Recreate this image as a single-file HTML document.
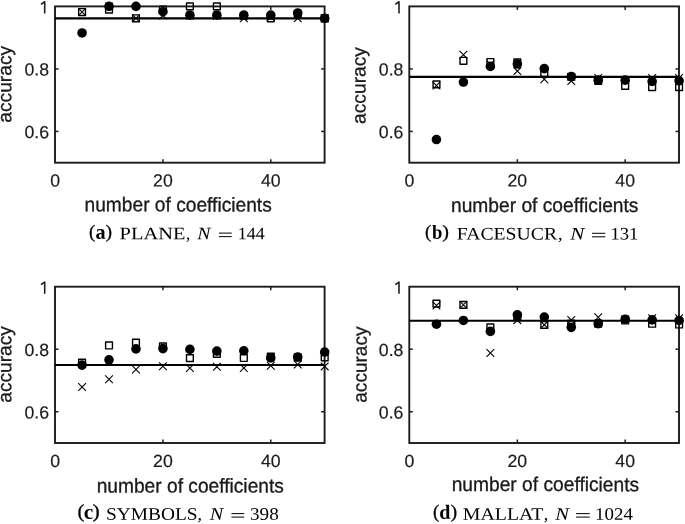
<!DOCTYPE html>
<html><head><meta charset="utf-8"><style>
html,body{margin:0;padding:0;background:#fff;}
svg{display:block;will-change:transform;font-family:"Liberation Sans",sans-serif;}
</style></head><body>
<svg width="685" height="524" viewBox="0 0 685 524">
<rect width="685" height="524" fill="#fff"/>
<g stroke="#1c1c1c" stroke-width="1.9"><line x1="162.94" y1="162.70" x2="162.94" y2="159.20" stroke-width="1.5"/><line x1="162.94" y1="6.40" x2="162.94" y2="9.90" stroke-width="1.5"/><line x1="270.78" y1="162.70" x2="270.78" y2="159.20" stroke-width="1.5"/><line x1="270.78" y1="6.40" x2="270.78" y2="9.90" stroke-width="1.5"/><line x1="55.00" y1="131.44" x2="58.50" y2="131.44" stroke-width="1.5"/><line x1="324.60" y1="131.44" x2="321.10" y2="131.44" stroke-width="1.5"/><line x1="55.00" y1="68.92" x2="58.50" y2="68.92" stroke-width="1.5"/><line x1="324.60" y1="68.92" x2="321.10" y2="68.92" stroke-width="1.5"/><rect x="55.00" y="6.40" width="269.60" height="156.30" fill="none"/></g>
<line x1="55.00" y1="18.28" x2="324.60" y2="18.28" stroke="#000" stroke-width="2.2"/>
<rect x="78.66" y="8.63" width="6.80" height="6.80" fill="none" stroke="#000" stroke-width="1.4" stroke-linejoin="round"/><path d="M78.21 8.18L85.91 15.88M85.91 8.18L78.21 15.88" stroke="#000" stroke-width="1.1" fill="none"/><circle cx="82.06" cy="32.97" r="4.8" fill="#000"/><rect x="105.62" y="6.13" width="6.80" height="6.80" fill="none" stroke="#000" stroke-width="1.4" stroke-linejoin="round"/><path d="M105.17 2.55L112.87 10.25M112.87 2.55L105.17 10.25" stroke="#000" stroke-width="1.1" fill="none"/><circle cx="109.02" cy="6.40" r="4.8" fill="#000"/><rect x="132.58" y="14.88" width="6.80" height="6.80" fill="none" stroke="#000" stroke-width="1.4" stroke-linejoin="round"/><path d="M132.13 14.43L139.83 22.13M139.83 14.43L132.13 22.13" stroke="#000" stroke-width="1.1" fill="none"/><circle cx="135.98" cy="6.40" r="4.8" fill="#000"/><rect x="159.54" y="6.13" width="6.80" height="6.80" fill="none" stroke="#000" stroke-width="1.4" stroke-linejoin="round"/><path d="M159.09 11.62L166.79 19.32M166.79 11.62L159.09 19.32" stroke="#000" stroke-width="1.1" fill="none"/><circle cx="162.94" cy="11.71" r="4.8" fill="#000"/><rect x="186.50" y="3.00" width="6.80" height="6.80" fill="none" stroke="#000" stroke-width="1.4" stroke-linejoin="round"/><path d="M186.05 11.93L193.75 19.63M193.75 11.93L186.05 19.63" stroke="#000" stroke-width="1.1" fill="none"/><circle cx="189.90" cy="15.15" r="4.8" fill="#000"/><rect x="213.46" y="3.00" width="6.80" height="6.80" fill="none" stroke="#000" stroke-width="1.4" stroke-linejoin="round"/><path d="M213.01 11.93L220.71 19.63M220.71 11.93L213.01 19.63" stroke="#000" stroke-width="1.1" fill="none"/><circle cx="216.86" cy="15.15" r="4.8" fill="#000"/><rect x="240.42" y="12.38" width="6.80" height="6.80" fill="none" stroke="#000" stroke-width="1.4" stroke-linejoin="round"/><path d="M239.97 14.43L247.67 22.13M247.67 14.43L239.97 22.13" stroke="#000" stroke-width="1.1" fill="none"/><circle cx="243.82" cy="15.15" r="4.8" fill="#000"/><rect x="267.38" y="14.88" width="6.80" height="6.80" fill="none" stroke="#000" stroke-width="1.4" stroke-linejoin="round"/><path d="M266.93 13.49L274.63 21.19M274.63 13.49L266.93 21.19" stroke="#000" stroke-width="1.1" fill="none"/><circle cx="270.78" cy="15.15" r="4.8" fill="#000"/><rect x="294.34" y="10.82" width="6.80" height="6.80" fill="none" stroke="#000" stroke-width="1.4" stroke-linejoin="round"/><path d="M293.89 14.43L301.59 22.13M301.59 14.43L293.89 22.13" stroke="#000" stroke-width="1.1" fill="none"/><circle cx="297.74" cy="12.96" r="4.8" fill="#000"/><rect x="321.30" y="14.88" width="6.80" height="6.80" fill="none" stroke="#000" stroke-width="1.4" stroke-linejoin="round"/><path d="M320.85 14.43L328.55 22.13M328.55 14.43L320.85 22.13" stroke="#000" stroke-width="1.1" fill="none"/><circle cx="324.70" cy="18.28" r="4.8" fill="#000"/>
<path d="M44.70 13.50V1.30M45.00 1.50L41.00 4.40" stroke="#1a1a1a" stroke-width="1.55" fill="none"/>
<g font-size="17.7" fill="#1a1a1a" stroke="#1a1a1a" stroke-width="0.18"><text transform="translate(49.10,75.62) skewY(0.05)" text-anchor="end">0.8</text><text transform="translate(49.10,138.14) skewY(0.05)" text-anchor="end">0.6</text><text transform="translate(55.10,186.60) skewY(0.05)" text-anchor="middle">0</text><text transform="translate(162.94,186.60) skewY(0.05)" text-anchor="middle">20</text><text transform="translate(270.78,186.60) skewY(0.05)" text-anchor="middle">40</text></g>
<text transform="translate(84.50,211.30) skewY(0.05) scale(1,1.04)" font-size="19.2" textLength="187.28" lengthAdjust="spacingAndGlyphs" fill="#1a1a1a" stroke="#1a1a1a" stroke-width="0.3">number of coefficients</text>
<text transform="translate(11.30,122.65) rotate(-90) skewY(0.05)" font-size="19.2" textLength="76.77" lengthAdjust="spacingAndGlyphs" fill="#1a1a1a" stroke="#1a1a1a" stroke-width="0.3">accuracy</text>
<g font-family="'Liberation Serif',serif"><text transform="translate(89.09,237.72) skewY(0.05) scale(1.0811,1.0625)" font-size="17.6" fill="#000" stroke="#000" stroke-width="0.25">(</text><text transform="translate(95.42,238.85) skewY(0.05) scale(1.1500,1.1821)" font-size="17.6" font-weight="bold" fill="#000">a</text><text transform="translate(105.54,237.72) skewY(0.05) scale(1.1243,1.0625)" font-size="17.6" fill="#000" stroke="#000" stroke-width="0.25">)</text><text transform="translate(119.62,239.20) skewY(0.05) scale(1,1.0)" font-size="17.6" textLength="65.74" lengthAdjust="spacingAndGlyphs" fill="#000">PLANE</text><text transform="translate(186.10,239.20) skewY(0.05) scale(1,1.0)" font-size="17.6" textLength="4.20" lengthAdjust="spacingAndGlyphs" fill="#000">,</text><text transform="translate(197.34,239.20) skewY(0.05) scale(1,1.0)" font-size="17.6" font-style="italic" textLength="13.19" lengthAdjust="spacingAndGlyphs" fill="#000">N</text><text transform="translate(237.67,239.20) skewY(0.05) scale(1,1.0)" font-size="17.6" textLength="26.95" lengthAdjust="spacingAndGlyphs" fill="#000">144</text><rect x="219.00" y="232.60" width="12.70" height="1.0" fill="#000"/><rect x="219.00" y="236.10" width="12.70" height="1.0" fill="#000"/></g>
<g stroke="#1c1c1c" stroke-width="1.9"><line x1="517.34" y1="162.70" x2="517.34" y2="159.20" stroke-width="1.5"/><line x1="517.34" y1="6.40" x2="517.34" y2="9.90" stroke-width="1.5"/><line x1="625.18" y1="162.70" x2="625.18" y2="159.20" stroke-width="1.5"/><line x1="625.18" y1="6.40" x2="625.18" y2="9.90" stroke-width="1.5"/><line x1="409.30" y1="131.44" x2="412.80" y2="131.44" stroke-width="1.5"/><line x1="679.00" y1="131.44" x2="675.50" y2="131.44" stroke-width="1.5"/><line x1="409.30" y1="68.92" x2="412.80" y2="68.92" stroke-width="1.5"/><line x1="679.00" y1="68.92" x2="675.50" y2="68.92" stroke-width="1.5"/><rect x="409.30" y="6.40" width="269.70" height="156.30" fill="none"/></g>
<line x1="409.30" y1="76.89" x2="679.00" y2="76.89" stroke="#000" stroke-width="2.2"/>
<rect x="433.06" y="80.96" width="6.80" height="6.80" fill="none" stroke="#000" stroke-width="1.4" stroke-linejoin="round"/><path d="M432.61 81.64L440.31 89.34M440.31 81.64L432.61 89.34" stroke="#000" stroke-width="1.1" fill="none"/><circle cx="436.46" cy="139.57" r="4.8" fill="#000"/><rect x="460.02" y="57.39" width="6.80" height="6.80" fill="none" stroke="#000" stroke-width="1.4" stroke-linejoin="round"/><path d="M459.57 50.85L467.27 58.55M467.27 50.85L459.57 58.55" stroke="#000" stroke-width="1.1" fill="none"/><circle cx="463.42" cy="82.05" r="4.8" fill="#000"/><rect x="486.98" y="58.64" width="6.80" height="6.80" fill="none" stroke="#000" stroke-width="1.4" stroke-linejoin="round"/><path d="M486.53 60.38L494.23 68.08M494.23 60.38L486.53 68.08" stroke="#000" stroke-width="1.1" fill="none"/><circle cx="490.38" cy="66.42" r="4.8" fill="#000"/><rect x="513.94" y="58.96" width="6.80" height="6.80" fill="none" stroke="#000" stroke-width="1.4" stroke-linejoin="round"/><path d="M513.49 67.26L521.19 74.96M521.19 67.26L513.49 74.96" stroke="#000" stroke-width="1.1" fill="none"/><circle cx="517.34" cy="64.07" r="4.8" fill="#000"/><rect x="540.90" y="69.58" width="6.80" height="6.80" fill="none" stroke="#000" stroke-width="1.4" stroke-linejoin="round"/><path d="M540.45 75.39L548.15 83.09M548.15 75.39L540.45 83.09" stroke="#000" stroke-width="1.1" fill="none"/><circle cx="544.30" cy="68.61" r="4.8" fill="#000"/><rect x="567.86" y="73.33" width="6.80" height="6.80" fill="none" stroke="#000" stroke-width="1.4" stroke-linejoin="round"/><path d="M567.41 77.26L575.11 84.96M575.11 77.26L567.41 84.96" stroke="#000" stroke-width="1.1" fill="none"/><circle cx="571.26" cy="76.58" r="4.8" fill="#000"/><rect x="594.82" y="77.40" width="6.80" height="6.80" fill="none" stroke="#000" stroke-width="1.4" stroke-linejoin="round"/><path d="M594.37 74.14L602.07 81.84M602.07 74.14L594.37 81.84" stroke="#000" stroke-width="1.1" fill="none"/><circle cx="598.22" cy="80.17" r="4.8" fill="#000"/><rect x="621.78" y="82.40" width="6.80" height="6.80" fill="none" stroke="#000" stroke-width="1.4" stroke-linejoin="round"/><path d="M621.33 76.32L629.03 84.02M629.03 76.32L621.33 84.02" stroke="#000" stroke-width="1.1" fill="none"/><circle cx="625.18" cy="80.17" r="4.8" fill="#000"/><rect x="648.74" y="83.65" width="6.80" height="6.80" fill="none" stroke="#000" stroke-width="1.4" stroke-linejoin="round"/><path d="M648.29 74.14L655.99 81.84M655.99 74.14L648.29 81.84" stroke="#000" stroke-width="1.1" fill="none"/><circle cx="652.14" cy="81.42" r="4.8" fill="#000"/><rect x="675.70" y="83.65" width="6.80" height="6.80" fill="none" stroke="#000" stroke-width="1.4" stroke-linejoin="round"/><path d="M675.25 74.14L682.95 81.84M682.95 74.14L675.25 81.84" stroke="#000" stroke-width="1.1" fill="none"/><circle cx="679.10" cy="80.80" r="4.8" fill="#000"/>
<path d="M399.00 13.50V1.30M399.30 1.50L395.30 4.40" stroke="#1a1a1a" stroke-width="1.55" fill="none"/>
<g font-size="17.7" fill="#1a1a1a" stroke="#1a1a1a" stroke-width="0.18"><text transform="translate(403.40,75.62) skewY(0.05)" text-anchor="end">0.8</text><text transform="translate(403.40,138.14) skewY(0.05)" text-anchor="end">0.6</text><text transform="translate(409.50,186.60) skewY(0.05)" text-anchor="middle">0</text><text transform="translate(517.34,186.60) skewY(0.05)" text-anchor="middle">20</text><text transform="translate(625.18,186.60) skewY(0.05)" text-anchor="middle">40</text></g>
<text transform="translate(450.95,211.90) skewY(0.05) scale(1,1.04)" font-size="19.2" textLength="187.53" lengthAdjust="spacingAndGlyphs" fill="#1a1a1a" stroke="#1a1a1a" stroke-width="0.3">number of coefficients</text>
<text transform="translate(365.50,123.95) rotate(-90) skewY(0.05)" font-size="19.2" textLength="76.87" lengthAdjust="spacingAndGlyphs" fill="#1a1a1a" stroke="#1a1a1a" stroke-width="0.3">accuracy</text>
<g font-family="'Liberation Serif',serif"><text transform="translate(424.89,237.76) skewY(0.05) scale(1.0811,1.0500)" font-size="17.6" fill="#000" stroke="#000" stroke-width="0.25">(</text><text transform="translate(431.94,238.76) skewY(0.05) scale(1.0592,1.1313)" font-size="17.6" font-weight="bold" fill="#000">b</text><text transform="translate(442.33,237.76) skewY(0.05) scale(1.1459,1.0500)" font-size="17.6" fill="#000" stroke="#000" stroke-width="0.25">)</text><text transform="translate(456.74,239.40) skewY(0.05) scale(1,1.0)" font-size="17.6" textLength="100.30" lengthAdjust="spacingAndGlyphs" fill="#000">FACESUCR</text><text transform="translate(557.96,239.40) skewY(0.05) scale(1,1.0)" font-size="17.6" textLength="4.53" lengthAdjust="spacingAndGlyphs" fill="#000">,</text><text transform="translate(570.25,239.40) skewY(0.05) scale(1,1.0)" font-size="17.6" font-style="italic" textLength="14.11" lengthAdjust="spacingAndGlyphs" fill="#000">N</text><text transform="translate(610.52,239.40) skewY(0.05) scale(1,1.0)" font-size="17.6" textLength="27.90" lengthAdjust="spacingAndGlyphs" fill="#000">131</text><rect x="592.00" y="232.80" width="13.30" height="1.0" fill="#000"/><rect x="592.00" y="236.30" width="13.30" height="1.0" fill="#000"/></g>
<g stroke="#1c1c1c" stroke-width="1.9"><line x1="162.94" y1="443.00" x2="162.94" y2="439.50" stroke-width="1.5"/><line x1="162.94" y1="286.70" x2="162.94" y2="290.20" stroke-width="1.5"/><line x1="270.78" y1="443.00" x2="270.78" y2="439.50" stroke-width="1.5"/><line x1="270.78" y1="286.70" x2="270.78" y2="290.20" stroke-width="1.5"/><line x1="55.00" y1="411.74" x2="58.50" y2="411.74" stroke-width="1.5"/><line x1="324.60" y1="411.74" x2="321.10" y2="411.74" stroke-width="1.5"/><line x1="55.00" y1="349.22" x2="58.50" y2="349.22" stroke-width="1.5"/><line x1="324.60" y1="349.22" x2="321.10" y2="349.22" stroke-width="1.5"/><rect x="55.00" y="286.70" width="269.60" height="156.30" fill="none"/></g>
<line x1="55.00" y1="365.01" x2="324.60" y2="365.01" stroke="#000" stroke-width="2.2"/>
<rect x="78.66" y="359.26" width="6.80" height="6.80" fill="none" stroke="#000" stroke-width="1.4" stroke-linejoin="round"/><path d="M78.21 383.19L85.91 390.89M85.91 383.19L78.21 390.89" stroke="#000" stroke-width="1.1" fill="none"/><circle cx="82.06" cy="365.16" r="4.8" fill="#000"/><rect x="105.62" y="342.07" width="6.80" height="6.80" fill="none" stroke="#000" stroke-width="1.4" stroke-linejoin="round"/><path d="M105.17 375.38L112.87 383.08M112.87 375.38L105.17 383.08" stroke="#000" stroke-width="1.1" fill="none"/><circle cx="109.02" cy="359.85" r="4.8" fill="#000"/><rect x="132.58" y="339.26" width="6.80" height="6.80" fill="none" stroke="#000" stroke-width="1.4" stroke-linejoin="round"/><path d="M132.13 365.69L139.83 373.39M139.83 365.69L132.13 373.39" stroke="#000" stroke-width="1.1" fill="none"/><circle cx="135.98" cy="348.91" r="4.8" fill="#000"/><rect x="159.54" y="343.01" width="6.80" height="6.80" fill="none" stroke="#000" stroke-width="1.4" stroke-linejoin="round"/><path d="M159.09 362.34L166.79 370.04M166.79 362.34L159.09 370.04" stroke="#000" stroke-width="1.1" fill="none"/><circle cx="162.94" cy="348.59" r="4.8" fill="#000"/><rect x="186.50" y="354.70" width="6.80" height="6.80" fill="none" stroke="#000" stroke-width="1.4" stroke-linejoin="round"/><path d="M186.05 364.13L193.75 371.83M193.75 364.13L186.05 371.83" stroke="#000" stroke-width="1.1" fill="none"/><circle cx="189.90" cy="349.38" r="4.8" fill="#000"/><rect x="213.46" y="350.51" width="6.80" height="6.80" fill="none" stroke="#000" stroke-width="1.4" stroke-linejoin="round"/><path d="M213.01 362.88L220.71 370.58M220.71 362.88L213.01 370.58" stroke="#000" stroke-width="1.1" fill="none"/><circle cx="216.86" cy="351.10" r="4.8" fill="#000"/><rect x="240.42" y="354.57" width="6.80" height="6.80" fill="none" stroke="#000" stroke-width="1.4" stroke-linejoin="round"/><path d="M239.97 364.13L247.67 371.83M247.67 364.13L239.97 371.83" stroke="#000" stroke-width="1.1" fill="none"/><circle cx="243.82" cy="350.78" r="4.8" fill="#000"/><rect x="267.38" y="353.32" width="6.80" height="6.80" fill="none" stroke="#000" stroke-width="1.4" stroke-linejoin="round"/><path d="M266.93 361.94L274.63 369.64M274.63 361.94L266.93 369.64" stroke="#000" stroke-width="1.1" fill="none"/><circle cx="270.78" cy="357.97" r="4.8" fill="#000"/><rect x="294.34" y="353.95" width="6.80" height="6.80" fill="none" stroke="#000" stroke-width="1.4" stroke-linejoin="round"/><path d="M293.89 360.69L301.59 368.39M301.59 360.69L293.89 368.39" stroke="#000" stroke-width="1.1" fill="none"/><circle cx="297.74" cy="357.03" r="4.8" fill="#000"/><rect x="321.30" y="353.95" width="6.80" height="6.80" fill="none" stroke="#000" stroke-width="1.4" stroke-linejoin="round"/><path d="M320.85 362.56L328.55 370.26M328.55 362.56L320.85 370.26" stroke="#000" stroke-width="1.1" fill="none"/><circle cx="324.70" cy="352.03" r="4.8" fill="#000"/>
<path d="M44.70 293.80V281.60M45.00 281.80L41.00 284.70" stroke="#1a1a1a" stroke-width="1.55" fill="none"/>
<g font-size="17.7" fill="#1a1a1a" stroke="#1a1a1a" stroke-width="0.18"><text transform="translate(49.10,355.92) skewY(0.05)" text-anchor="end">0.8</text><text transform="translate(49.10,418.44) skewY(0.05)" text-anchor="end">0.6</text><text transform="translate(55.10,466.90) skewY(0.05)" text-anchor="middle">0</text><text transform="translate(162.94,466.90) skewY(0.05)" text-anchor="middle">20</text><text transform="translate(270.78,466.90) skewY(0.05)" text-anchor="middle">40</text></g>
<text transform="translate(96.65,492.40) skewY(0.05) scale(1,1.04)" font-size="19.2" textLength="187.23" lengthAdjust="spacingAndGlyphs" fill="#1a1a1a" stroke="#1a1a1a" stroke-width="0.3">number of coefficients</text>
<text transform="translate(11.30,402.75) rotate(-90) skewY(0.05)" font-size="19.2" textLength="76.67" lengthAdjust="spacingAndGlyphs" fill="#1a1a1a" stroke="#1a1a1a" stroke-width="0.3">accuracy</text>
<g font-family="'Liberation Serif',serif"><text transform="translate(77.41,517.62) skewY(0.05) scale(1.1892,1.0875)" font-size="17.6" fill="#000" stroke="#000" stroke-width="0.25">(</text><text transform="translate(83.84,518.65) skewY(0.05) scale(1.2148,1.1821)" font-size="17.6" font-weight="bold" fill="#000">c</text><text transform="translate(92.58,517.62) skewY(0.05) scale(1.2324,1.0875)" font-size="17.6" fill="#000" stroke="#000" stroke-width="0.25">)</text><text transform="translate(105.96,519.70) skewY(0.05) scale(1,1.0)" font-size="17.6" textLength="91.65" lengthAdjust="spacingAndGlyphs" fill="#000">SYMBOLS</text><text transform="translate(197.56,519.70) skewY(0.05) scale(1,1.0)" font-size="17.6" textLength="4.53" lengthAdjust="spacingAndGlyphs" fill="#000">,</text><text transform="translate(209.74,519.70) skewY(0.05) scale(1,1.0)" font-size="17.6" font-style="italic" textLength="13.46" lengthAdjust="spacingAndGlyphs" fill="#000">N</text><text transform="translate(250.05,519.70) skewY(0.05) scale(1,1.0)" font-size="17.6" textLength="28.70" lengthAdjust="spacingAndGlyphs" fill="#000">398</text><rect x="231.50" y="513.10" width="12.70" height="1.0" fill="#000"/><rect x="231.50" y="516.60" width="12.70" height="1.0" fill="#000"/></g>
<g stroke="#1c1c1c" stroke-width="1.9"><line x1="517.34" y1="443.00" x2="517.34" y2="439.50" stroke-width="1.5"/><line x1="517.34" y1="286.70" x2="517.34" y2="290.20" stroke-width="1.5"/><line x1="625.18" y1="443.00" x2="625.18" y2="439.50" stroke-width="1.5"/><line x1="625.18" y1="286.70" x2="625.18" y2="290.20" stroke-width="1.5"/><line x1="409.30" y1="411.74" x2="412.80" y2="411.74" stroke-width="1.5"/><line x1="679.00" y1="411.74" x2="675.50" y2="411.74" stroke-width="1.5"/><line x1="409.30" y1="349.22" x2="412.80" y2="349.22" stroke-width="1.5"/><line x1="679.00" y1="349.22" x2="675.50" y2="349.22" stroke-width="1.5"/><rect x="409.30" y="286.70" width="269.70" height="156.30" fill="none"/></g>
<line x1="409.30" y1="320.77" x2="679.00" y2="320.77" stroke="#000" stroke-width="2.2"/>
<rect x="433.06" y="300.18" width="6.80" height="6.80" fill="none" stroke="#000" stroke-width="1.4" stroke-linejoin="round"/><path d="M432.61 301.61L440.31 309.31M440.31 301.61L432.61 309.31" stroke="#000" stroke-width="1.1" fill="none"/><circle cx="436.46" cy="324.21" r="4.8" fill="#000"/><rect x="460.02" y="301.43" width="6.80" height="6.80" fill="none" stroke="#000" stroke-width="1.4" stroke-linejoin="round"/><path d="M459.57 300.98L467.27 308.68M467.27 300.98L459.57 308.68" stroke="#000" stroke-width="1.1" fill="none"/><circle cx="463.42" cy="320.46" r="4.8" fill="#000"/><rect x="486.98" y="323.94" width="6.80" height="6.80" fill="none" stroke="#000" stroke-width="1.4" stroke-linejoin="round"/><path d="M486.53 349.12L494.23 356.82M494.23 349.12L486.53 356.82" stroke="#000" stroke-width="1.1" fill="none"/><circle cx="490.38" cy="331.40" r="4.8" fill="#000"/><rect x="513.94" y="313.00" width="6.80" height="6.80" fill="none" stroke="#000" stroke-width="1.4" stroke-linejoin="round"/><path d="M513.49 316.30L521.19 324.00M521.19 316.30L513.49 324.00" stroke="#000" stroke-width="1.1" fill="none"/><circle cx="517.34" cy="314.83" r="4.8" fill="#000"/><rect x="540.90" y="321.44" width="6.80" height="6.80" fill="none" stroke="#000" stroke-width="1.4" stroke-linejoin="round"/><path d="M540.45 320.99L548.15 328.69M548.15 320.99L540.45 328.69" stroke="#000" stroke-width="1.1" fill="none"/><circle cx="544.30" cy="317.02" r="4.8" fill="#000"/><rect x="567.86" y="320.19" width="6.80" height="6.80" fill="none" stroke="#000" stroke-width="1.4" stroke-linejoin="round"/><path d="M567.41 316.20L575.11 323.90M575.11 316.20L567.41 323.90" stroke="#000" stroke-width="1.1" fill="none"/><circle cx="571.26" cy="327.34" r="4.8" fill="#000"/><rect x="594.82" y="320.19" width="6.80" height="6.80" fill="none" stroke="#000" stroke-width="1.4" stroke-linejoin="round"/><path d="M594.37 313.48L602.07 321.18M602.07 313.48L594.37 321.18" stroke="#000" stroke-width="1.1" fill="none"/><circle cx="598.22" cy="323.71" r="4.8" fill="#000"/><rect x="621.78" y="317.06" width="6.80" height="6.80" fill="none" stroke="#000" stroke-width="1.4" stroke-linejoin="round"/><path d="M621.33 315.67L629.03 323.37M629.03 315.67L621.33 323.37" stroke="#000" stroke-width="1.1" fill="none"/><circle cx="625.18" cy="319.21" r="4.8" fill="#000"/><rect x="648.74" y="320.34" width="6.80" height="6.80" fill="none" stroke="#000" stroke-width="1.4" stroke-linejoin="round"/><path d="M648.29 314.42L655.99 322.12M655.99 314.42L648.29 322.12" stroke="#000" stroke-width="1.1" fill="none"/><circle cx="652.14" cy="319.84" r="4.8" fill="#000"/><rect x="675.70" y="321.12" width="6.80" height="6.80" fill="none" stroke="#000" stroke-width="1.4" stroke-linejoin="round"/><path d="M675.25 314.42L682.95 322.12M682.95 314.42L675.25 322.12" stroke="#000" stroke-width="1.1" fill="none"/><circle cx="679.10" cy="320.46" r="4.8" fill="#000"/>
<path d="M399.00 293.80V281.60M399.30 281.80L395.30 284.70" stroke="#1a1a1a" stroke-width="1.55" fill="none"/>
<g font-size="17.7" fill="#1a1a1a" stroke="#1a1a1a" stroke-width="0.18"><text transform="translate(403.40,355.92) skewY(0.05)" text-anchor="end">0.8</text><text transform="translate(403.40,418.44) skewY(0.05)" text-anchor="end">0.6</text><text transform="translate(409.50,466.90) skewY(0.05)" text-anchor="middle">0</text><text transform="translate(517.34,466.90) skewY(0.05)" text-anchor="middle">20</text><text transform="translate(625.18,466.90) skewY(0.05)" text-anchor="middle">40</text></g>
<text transform="translate(451.65,491.00) skewY(0.05) scale(1,1.04)" font-size="19.2" textLength="187.53" lengthAdjust="spacingAndGlyphs" fill="#1a1a1a" stroke="#1a1a1a" stroke-width="0.3">number of coefficients</text>
<text transform="translate(366.60,402.74) rotate(-90) skewY(0.05)" font-size="19.2" textLength="76.27" lengthAdjust="spacingAndGlyphs" fill="#1a1a1a" stroke="#1a1a1a" stroke-width="0.3">accuracy</text>
<g font-family="'Liberation Serif',serif"><text transform="translate(433.09,517.67) skewY(0.05) scale(1.0811,1.0750)" font-size="17.6" fill="#000" stroke="#000" stroke-width="0.25">(</text><text transform="translate(439.15,518.76) skewY(0.05) scale(1.1380,1.1475)" font-size="17.6" font-weight="bold" fill="#000">d</text><text transform="translate(450.53,517.67) skewY(0.05) scale(1.1459,1.0750)" font-size="17.6" fill="#000" stroke="#000" stroke-width="0.25">)</text><text transform="translate(462.74,519.70) skewY(0.05) scale(1,1.0)" font-size="17.6" textLength="80.62" lengthAdjust="spacingAndGlyphs" fill="#000">MALLAT</text><text transform="translate(543.86,519.70) skewY(0.05) scale(1,1.0)" font-size="17.6" textLength="4.53" lengthAdjust="spacingAndGlyphs" fill="#000">,</text><text transform="translate(555.15,519.70) skewY(0.05) scale(1,1.0)" font-size="17.6" font-style="italic" textLength="13.74" lengthAdjust="spacingAndGlyphs" fill="#000">N</text><text transform="translate(594.99,519.70) skewY(0.05) scale(1,1.0)" font-size="17.6" textLength="37.88" lengthAdjust="spacingAndGlyphs" fill="#000">1024</text><rect x="576.10" y="513.10" width="13.60" height="1.0" fill="#000"/><rect x="576.10" y="516.60" width="13.60" height="1.0" fill="#000"/></g>
</svg>
</body></html>
